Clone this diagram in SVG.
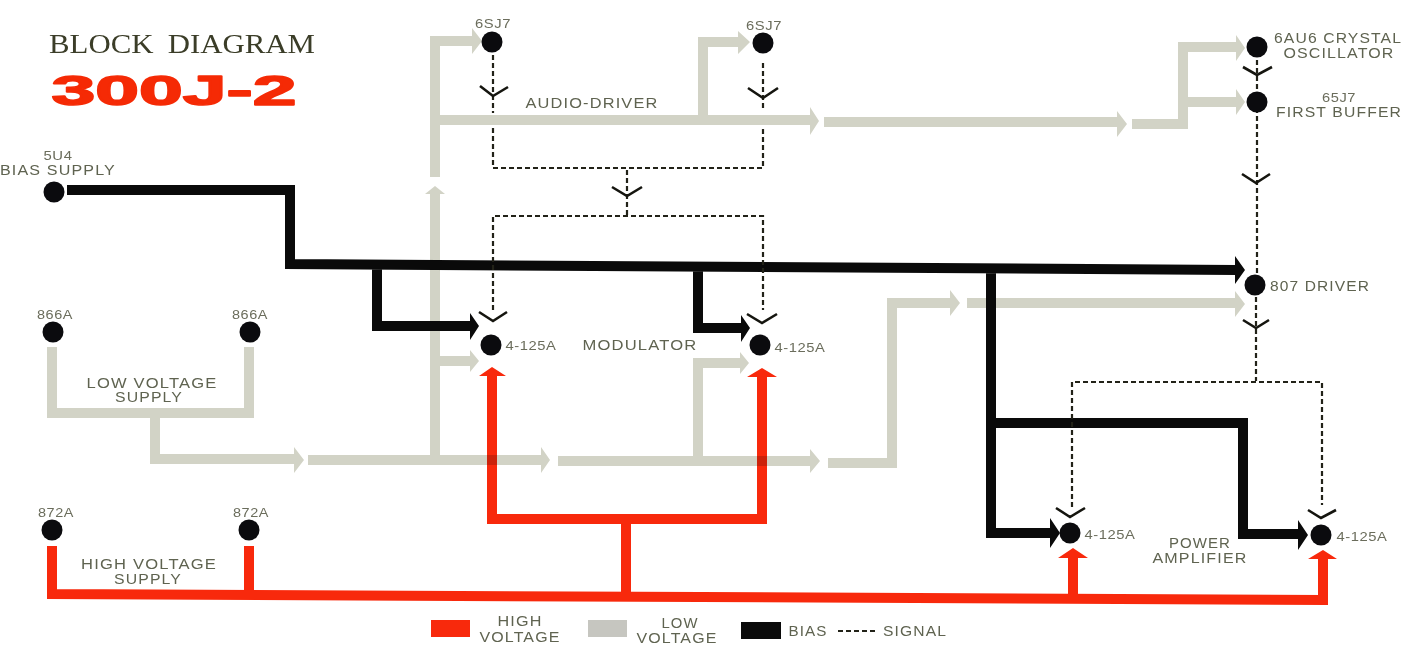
<svg xmlns="http://www.w3.org/2000/svg" width="1402" height="646" viewBox="0 0 1402 646">
<style>
text{font-family:"Liberation Sans",Arial,sans-serif;fill:#5f6350;font-size:14px;letter-spacing:1px;text-anchor:middle}
.s{font-size:13px;letter-spacing:.5px;fill:#6b6d5c}
.tube{fill:#0b0b0e}
.lv{fill:none;stroke:#d2d3c6;stroke-width:10}
.lvh{fill:#d2d3c6}
.bias{fill:none;stroke:#0a0a0a;stroke-width:10}
.bh{fill:#0a0a0a}
.hv{fill:none;stroke:#f8290c;stroke-width:10}
.hh{fill:#f8290c}
.sig{fill:none;stroke:#222218;stroke-width:2.2;stroke-dasharray:5 3}
.chev{fill:none;stroke:#15150f;stroke-width:2.6}
#high-voltage{mix-blend-mode:multiply}
</style>
<rect width="1402" height="646" fill="#fff"/>
<g id="connectors">
<g id="low-voltage">
<path class="lv" d="M52 347V413H249V347M155 413V459H294M308 460H542M558 461H810M828 463H892V303H951M967 303H1236"/>
<path class="lv" d="M435 460V192M435 177V41H473M435 120H810M824 122H1118M1132 124H1183V47H1237M1183 102H1237M703 120V42H740M436 361H470M698 460V363H741"/>
<path class="lvh" d="M294 447L304 460L294 473ZM541 447L550 460L541 473ZM810 449L820 461L810 473ZM950 290L960 303L950 316ZM1235 291L1245 304L1235 317ZM472 28L482 41L472 54ZM738 31L750 42L738 54ZM810 107L819 121L810 135ZM1117 111L1127 124L1117 137ZM1236 35L1245 48L1236 61ZM1236 89L1245 102L1236 115ZM425 194H445L435 186ZM470 350L479 361L470 372ZM740 352L749 363L740 374Z"/>
</g>
<g id="bias-lines">
<path class="bias" d="M67 190H290V264L1236 270M377 265V326H470M698 266V328H741M991 268V533H1050M991 423H1243V534H1298"/>
<path class="bh" d="M1235 256L1245 270L1235 284ZM470 313L479 326L470 340ZM741 315L750 328L741 342ZM1050 518L1060 533L1050 548ZM1298 520L1308 535L1298 550Z"/>
</g>
<g id="high-voltage">
<path class="hv" d="M52 546V594L1323 600V558M249 546V595M626 597V519H492V376M626 519H762V377M1073 598V558"/>
<path class="hh" d="M479 376L492 367L506 376ZM747 377L762 368L777 377ZM1058 558L1073 548L1088 558ZM1308 559L1323 550L1337 559Z"/>
</g>
<g id="signal">
<path class="sig" d="M493 55V113M493 128V168H763V129M763 108V62M627 170V216M493 310V216H763V310M1257 60V274M1256 297V381M1072 507V382H1322V505"/>
<path class="chev" d="M480 86L493 96L508 87M748 88L763 98L778 88M612 187L627 196L642 187M479 312L493 321L507 312M747 314L762 323L777 314M1243 67L1257 75L1272 67M1242 174L1256 183L1270 174M1243 320L1256 328L1269 320M1056 508L1070 517L1085 508M1308 510L1321 518L1336 510"/>
</g>
</g>
<g id="title">
<text x="182" y="53" textLength="266" lengthAdjust="spacingAndGlyphs" style="font-family:'Liberation Serif',serif;font-size:28px;fill:#3b3d28;letter-spacing:0;word-spacing:6px">BLOCK DIAGRAM</text>
<text x="174" y="105" textLength="245" lengthAdjust="spacingAndGlyphs" style="font-family:'Liberation Sans',sans-serif;font-weight:bold;font-size:43px;fill:#f52a05;stroke:#f52a05;stroke-width:1.6;stroke-linejoin:round;letter-spacing:0">300J-2</text>
</g>
<g id="n-5u4"><circle class="tube" cx="54" cy="192" r="10.5"/><text class="s" x="58" y="160" textLength="29" lengthAdjust="spacingAndGlyphs">5U4</text><text x="58" y="175" textLength="116" lengthAdjust="spacingAndGlyphs">BIAS SUPPLY</text></g>
<g id="n-866a-1"><circle class="tube" cx="53" cy="332" r="10.5"/><text class="s" x="55" y="319" textLength="36" lengthAdjust="spacingAndGlyphs">866A</text></g>
<g id="n-866a-2"><circle class="tube" cx="250" cy="332" r="10.5"/><text class="s" x="250" y="319" textLength="36" lengthAdjust="spacingAndGlyphs">866A</text></g>
<g id="n-lv"><text x="152" y="388" textLength="131" lengthAdjust="spacingAndGlyphs">LOW VOLTAGE</text><text x="149" y="402" textLength="68" lengthAdjust="spacingAndGlyphs">SUPPLY</text></g>
<g id="n-872a-1"><circle class="tube" cx="52" cy="530" r="10.5"/><text class="s" x="56" y="517" textLength="36" lengthAdjust="spacingAndGlyphs">872A</text></g>
<g id="n-872a-2"><circle class="tube" cx="249" cy="530" r="10.5"/><text class="s" x="251" y="517" textLength="36" lengthAdjust="spacingAndGlyphs">872A</text></g>
<g id="n-hv"><text x="149" y="569" textLength="136" lengthAdjust="spacingAndGlyphs">HIGH VOLTAGE</text><text x="148" y="584" textLength="68" lengthAdjust="spacingAndGlyphs">SUPPLY</text></g>
<g id="n-6sj7-1"><circle class="tube" cx="492" cy="42" r="10.5"/><text class="s" x="493" y="28" textLength="36" lengthAdjust="spacingAndGlyphs">6SJ7</text></g>
<g id="n-6sj7-2"><circle class="tube" cx="763" cy="43" r="10.5"/><text class="s" x="764" y="30" textLength="36" lengthAdjust="spacingAndGlyphs">6SJ7</text></g>
<g id="n-audio"><text x="592" y="108" textLength="133" lengthAdjust="spacingAndGlyphs">AUDIO-DRIVER</text></g>
<g id="n-osc"><circle class="tube" cx="1257" cy="47" r="10.5"/><text x="1338" y="43" textLength="128" lengthAdjust="spacingAndGlyphs">6AU6 CRYSTAL</text><text x="1339" y="58" textLength="111" lengthAdjust="spacingAndGlyphs">OSCILLATOR</text></g>
<g id="n-buffer"><circle class="tube" cx="1257" cy="102" r="10.5"/><text class="s" x="1339" y="102" textLength="34" lengthAdjust="spacingAndGlyphs">65J7</text><text x="1339" y="117" textLength="126" lengthAdjust="spacingAndGlyphs">FIRST BUFFER</text></g>
<g id="n-807"><circle class="tube" cx="1255" cy="285" r="10.5"/><text x="1320" y="291" textLength="100" lengthAdjust="spacingAndGlyphs">807 DRIVER</text></g>
<g id="n-mod1"><circle class="tube" cx="491" cy="345" r="10.5"/><text class="s" x="531" y="350" textLength="51" lengthAdjust="spacingAndGlyphs">4-125A</text></g>
<g id="n-mod"><text x="640" y="350" textLength="115" lengthAdjust="spacingAndGlyphs">MODULATOR</text></g>
<g id="n-mod2"><circle class="tube" cx="760" cy="345" r="10.5"/><text class="s" x="800" y="352" textLength="51" lengthAdjust="spacingAndGlyphs">4-125A</text></g>
<g id="n-pa1"><circle class="tube" cx="1070" cy="533" r="10.5"/><text class="s" x="1110" y="539" textLength="51" lengthAdjust="spacingAndGlyphs">4-125A</text></g>
<g id="n-pa"><text x="1200" y="548" textLength="62" lengthAdjust="spacingAndGlyphs">POWER</text><text x="1200" y="563" textLength="95" lengthAdjust="spacingAndGlyphs">AMPLIFIER</text></g>
<g id="n-pa2"><circle class="tube" cx="1321" cy="535" r="10.5"/><text class="s" x="1362" y="541" textLength="51" lengthAdjust="spacingAndGlyphs">4-125A</text></g>
<g id="legend">
<rect x="431" y="620" width="39" height="17" fill="#f8290c"/><text x="520" y="626" textLength="45" lengthAdjust="spacingAndGlyphs">HIGH</text><text x="520" y="642" textLength="81" lengthAdjust="spacingAndGlyphs">VOLTAGE</text>
<rect x="588" y="620" width="39" height="17" fill="#c6c6c0"/><text x="680" y="628" textLength="37" lengthAdjust="spacingAndGlyphs">LOW</text><text x="677" y="643" textLength="81" lengthAdjust="spacingAndGlyphs">VOLTAGE</text>
<rect x="741" y="622" width="40" height="17" fill="#0a0a0a"/><text x="808" y="636" textLength="39" lengthAdjust="spacingAndGlyphs">BIAS</text>
<path class="sig" d="M838 631H878"/><text x="915" y="636" textLength="64" lengthAdjust="spacingAndGlyphs">SIGNAL</text>
</g>
</svg>
